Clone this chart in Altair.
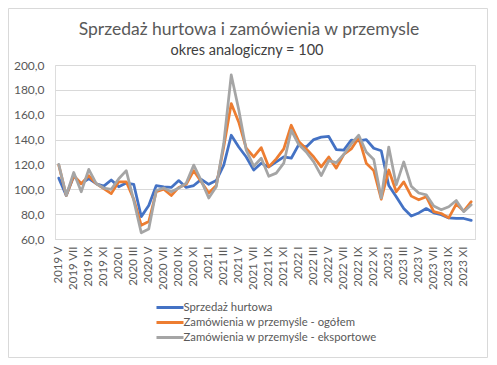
import altair as alt
import pandas as pd

years = [2019] * 8 + [2020] * 12 + [2021] * 12 + [2022] * 12 + [2023] * 12
romans = ["I", "II", "III", "IV", "V", "VI", "VII", "VIII", "IX", "X", "XI", "XII"]
month_nums = list(range(5, 13)) + list(range(1, 13)) * 4
labels = [f"{y} {romans[m - 1]}" for y, m in zip(years, month_nums)]

title_text = "Sprzedaż hurtowa i zamówienia w przemysle"
subtitle_text = "okres analogiczny = 100"

series_names = [
    "Sprzedaż hurtowa",
    "Zamówienia w przemyśle - ogółem",
    "Zamówienia w przemyśle - eksportowe",
]
colors = ["#4472C4", "#ED7D31", "#A5A5A5"]

hurt = [109, 95, 110.5, 104.5, 108.5, 104.5, 102.5, 107.5, 102, 105, 104, 78, 87, 103,
        102, 101.5, 107, 101.5, 103, 108, 104, 107, 119.5, 143.5, 134, 126, 115.5, 121,
        118, 122, 126, 125, 136, 134, 140, 142, 142.5, 132, 131.5, 139.5, 139, 140, 133,
        131, 103, 94, 84.5, 78.5, 81, 84.5, 81, 79.5, 77, 76.5, 76.5, 75]
ogolem = [119.5, 95, 111, 104.5, 111, 104.5, 100.5, 96.5, 106, 106, 92, 71, 74, 98,
          100, 95, 101.5, 104, 115, 106, 97, 103, 134, 169, 154, 133, 126, 133.5,
          118, 124.5, 132.5, 151.5, 138.5, 132.5, 126, 118, 126, 117, 128, 132.5, 141.5,
          121, 115, 92, 115.5, 98, 106, 94.5, 91.5, 94, 82, 80.5, 77, 88, 82.5, 90]
eksport = [120, 95, 113.5, 98, 116, 104.5, 101, 100, 108.5, 115, 91, 65, 68, 99,
           101, 98, 101, 105, 119.5, 107, 93, 102, 137, 192, 164, 131.5, 118.5, 125,
           110.5, 113, 121, 147.5, 136, 130, 122, 111, 123, 121.5, 128, 136.5, 143.5,
           130, 124, 93, 134, 103.5, 122, 102.5, 97, 95.5, 86.5, 83.5, 86, 91, 82, 87.5]

y_ticks = [60, 80, 100, 120, 140, 160, 180, 200]

rows = []
for name, vals in zip(series_names, [hurt, ogolem, eksport]):
    for i, (lab, v) in enumerate(zip(labels, vals)):
        rows.append({"okres": lab, "idx": i, "seria": name, "wartosc": v})
df = pd.DataFrame(rows)

FONT = "Lato"
GRAY = "#595959"

lines = alt.Chart(df).mark_line(strokeWidth=2.75, strokeJoin="round", strokeCap="round").encode(
    x=alt.X(
        "okres:O",
        sort=labels,
        scale=alt.Scale(type="point", padding=0.5),
        axis=alt.Axis(
            title=None,
            values=labels[::2],
            labelAngle=270,
            labelAlign="right",
            labelBaseline="middle",
            labelPadding=7,
            labelFontSize=11.5,
            labelColor=GRAY,
            labelFont=FONT,
            ticks=False,
            domain=True,
            domainColor="#d9d9d9",
            grid=False,
        ),
    ),
    y=alt.Y(
        "wartosc:Q",
        scale=alt.Scale(domain=[60, 200], nice=False, zero=False),
        axis=alt.Axis(
            title=None,
            values=y_ticks,
            labelExpr="replace(format(datum.value, '.1f'), '.', ',')",
            labelFontSize=12,
            labelColor=GRAY,
            labelFont=FONT,
            labelPadding=11,
            ticks=False,
            domain=False,
            grid=True,
            gridColor="#d9d9d9",
            gridWidth=1,
        ),
    ),
    color=alt.Color(
        "seria:N",
        scale=alt.Scale(domain=series_names, range=colors),
        sort=series_names,
        legend=alt.Legend(
            title=None,
            orient="none",
            direction="vertical",
            columns=1,
            legendX=106.5,
            legendY=234,
            symbolType="M-1.93,0H1.93",
            symbolSize=196,
            symbolStrokeWidth=3,
            labelFontSize=11.3,
            labelColor=GRAY,
            labelFont=FONT,
            labelOffset=5,
            labelLimit=400,
            rowPadding=0,
            padding=0,
        ),
    ),
    order=alt.Order("idx:Q"),
)

border = alt.Chart(pd.DataFrame({"b": [0]})).mark_rect(
    fill=None, stroke="#d9d9d9", strokeWidth=1
).encode(
    x=alt.value(-46.5), x2=alt.value(432.5), y=alt.value(-56.5), y2=alt.value(292.5)
)

title_mark = alt.Chart(pd.DataFrame({"t": [title_text]})).mark_text(
    font=FONT, fontSize=17.5, color=GRAY, align="center", baseline="alphabetic"
).encode(text="t:N", x=alt.value(194), y=alt.value(-30.5))

subtitle_mark = alt.Chart(pd.DataFrame({"t": [subtitle_text]})).mark_text(
    font=FONT, fontSize=14.5, color="#404040", align="center", baseline="alphabetic"
).encode(text="t:N", x=alt.value(192), y=alt.value(-10))

chart = alt.layer(border, title_mark, subtitle_mark, lines).properties(
    width=420,
    height=174,
    autosize="none",
    padding={"left": 47, "top": 57, "right": 13, "bottom": 119},
).configure_view(stroke=None).configure(background="white")

chart.save("out.html", embed_options={"renderer": "svg", "actions": False})
